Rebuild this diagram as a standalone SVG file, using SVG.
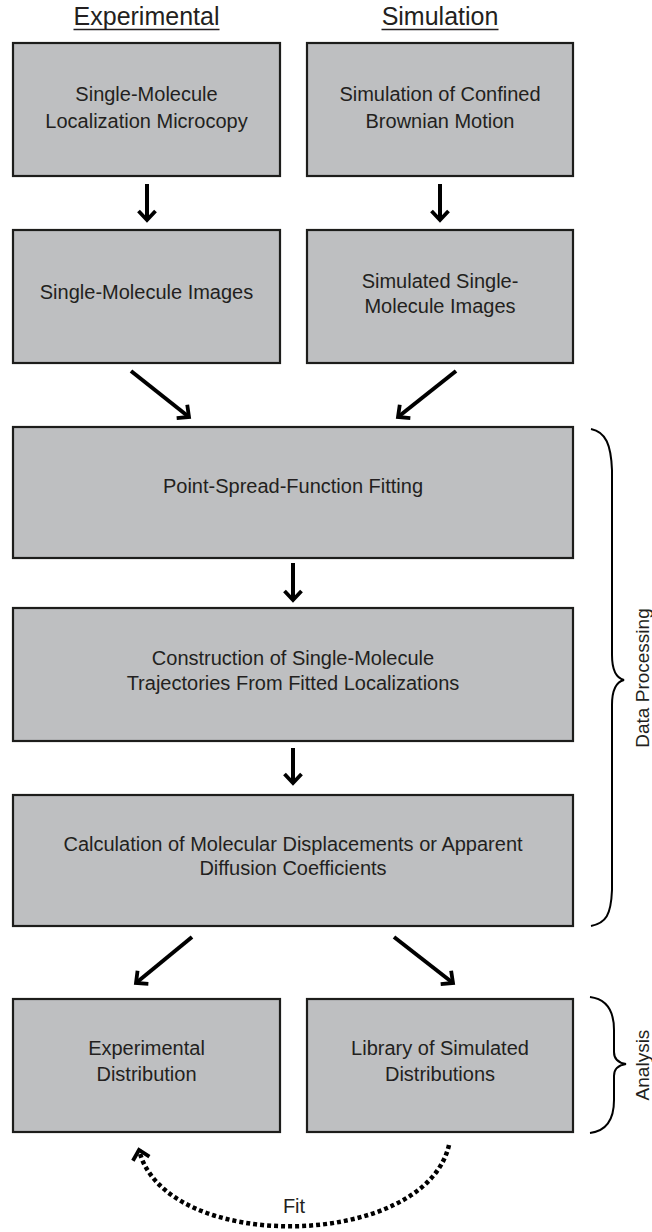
<svg xmlns="http://www.w3.org/2000/svg" width="652" height="1232" viewBox="0 0 652 1232">
<style>
.box{fill:#bebfc1;stroke:#1d1d1b;stroke-width:2.2}
.t{font-family:"Liberation Sans",Arial,sans-serif;font-size:20px;fill:#231f20;text-anchor:middle}
.h{font-family:"Liberation Sans",Arial,sans-serif;font-size:25px;fill:#231f20;text-anchor:middle}
.side{font-family:"Liberation Sans",Arial,sans-serif;font-size:19px;fill:#231f20;text-anchor:middle}
.arr{stroke:#000;stroke-width:4;fill:none;marker-end:url(#ah)}
.brace{stroke:#000;stroke-width:2;fill:none}
.ul{stroke:#231f20;stroke-width:1.4}
</style>
<defs>
<marker id="ah" markerUnits="userSpaceOnUse" orient="auto" viewBox="-16 -14 22 28" refX="0" refY="0" markerWidth="22" markerHeight="28" overflow="visible">
<path d="M -9 -8.5 L 0 0 L -9 8.5" fill="none" stroke="#000" stroke-width="3.8" stroke-linejoin="miter" stroke-miterlimit="10"/>
</marker>
</defs>

<g id="headers">
<text class="h" x="146.5" y="25">Experimental</text>
<line class="ul" x1="73.5" y1="29.5" x2="219.5" y2="29.5"/>
<text class="h" x="440" y="25">Simulation</text>
<line class="ul" x1="381.5" y1="29.5" x2="498.5" y2="29.5"/>
</g>

<g id="n-smlm">
<rect class="box" x="13" y="43" width="267" height="133"/>
<text class="t" x="146.5" y="101">Single-Molecule</text>
<text class="t" x="146.5" y="128">Localization Microcopy</text>
</g>
<g id="n-sim">
<rect class="box" x="307" y="43" width="266" height="133"/>
<text class="t" x="440" y="101">Simulation of Confined</text>
<text class="t" x="440" y="128">Brownian Motion</text>
</g>
<g id="n-smimg">
<rect class="box" x="13" y="230" width="267" height="133"/>
<text class="t" x="146.5" y="299">Single-Molecule Images</text>
</g>
<g id="n-simimg">
<rect class="box" x="307" y="230" width="266" height="133"/>
<text class="t" x="440" y="288">Simulated Single-</text>
<text class="t" x="440" y="313">Molecule Images</text>
</g>
<g id="n-psf">
<rect class="box" x="13" y="427" width="560" height="131"/>
<text class="t" x="293" y="493">Point-Spread-Function Fitting</text>
</g>
<g id="n-traj">
<rect class="box" x="13" y="608" width="560" height="133"/>
<text class="t" x="293" y="665">Construction of Single-Molecule</text>
<text class="t" x="293" y="690">Trajectories From Fitted Localizations</text>
</g>
<g id="n-calc">
<rect class="box" x="13" y="795" width="560" height="131"/>
<text class="t" x="293" y="851">Calculation of Molecular Displacements or Apparent</text>
<text class="t" x="293" y="875">Diffusion Coefficients</text>
</g>
<g id="n-expdist">
<rect class="box" x="13" y="999" width="267" height="133"/>
<text class="t" x="146.5" y="1055">Experimental</text>
<text class="t" x="146.5" y="1081">Distribution</text>
</g>
<g id="n-simdist">
<rect class="box" x="307" y="999" width="266" height="133"/>
<text class="t" x="440" y="1055">Library of Simulated</text>
<text class="t" x="440" y="1081">Distributions</text>
</g>

<g id="connectors">
<line class="arr" x1="147" y1="184" x2="147" y2="220"/>
<line class="arr" x1="440" y1="184" x2="440" y2="220"/>
<line class="arr" x1="131" y1="371" x2="189" y2="417"/>
<line class="arr" x1="456" y1="371" x2="398" y2="417"/>
<line class="arr" x1="293" y1="563" x2="293" y2="600"/>
<line class="arr" x1="293" y1="748" x2="293" y2="783"/>
<line class="arr" x1="192" y1="937" x2="136" y2="983"/>
<line class="arr" x1="394" y1="937" x2="453" y2="983"/>
<path d="M 449 1145 C 425 1250, 165 1255, 139 1150" fill="none" stroke="#000" stroke-width="4.5" stroke-dasharray="4 3" marker-end="url(#ah)"/>
<text class="t" x="294" y="1213">Fit</text>
</g>

<g id="brace-processing">
<path class="brace" d="M 591 429 C 606 432, 611 445, 612 470 L 612 655 C 612 670, 616 678, 624 680 C 616 682, 612 690, 612 705 L 612 890 C 611 915, 606 923, 591 926"/>
<text class="side" transform="translate(649,678) rotate(-90)" x="0" y="0">Data Processing</text>
</g>
<g id="brace-analysis">
<path class="brace" d="M 590 997 C 606 999, 614 1010, 614 1030 L 614 1052 C 614 1060, 619 1063, 626 1064 C 619 1065, 614 1068, 614 1076 L 614 1100 C 614 1120, 606 1131, 590 1133"/>
<text class="side" transform="translate(649,1065) rotate(-90)" x="0" y="0">Analysis</text>
</g>
</svg>
